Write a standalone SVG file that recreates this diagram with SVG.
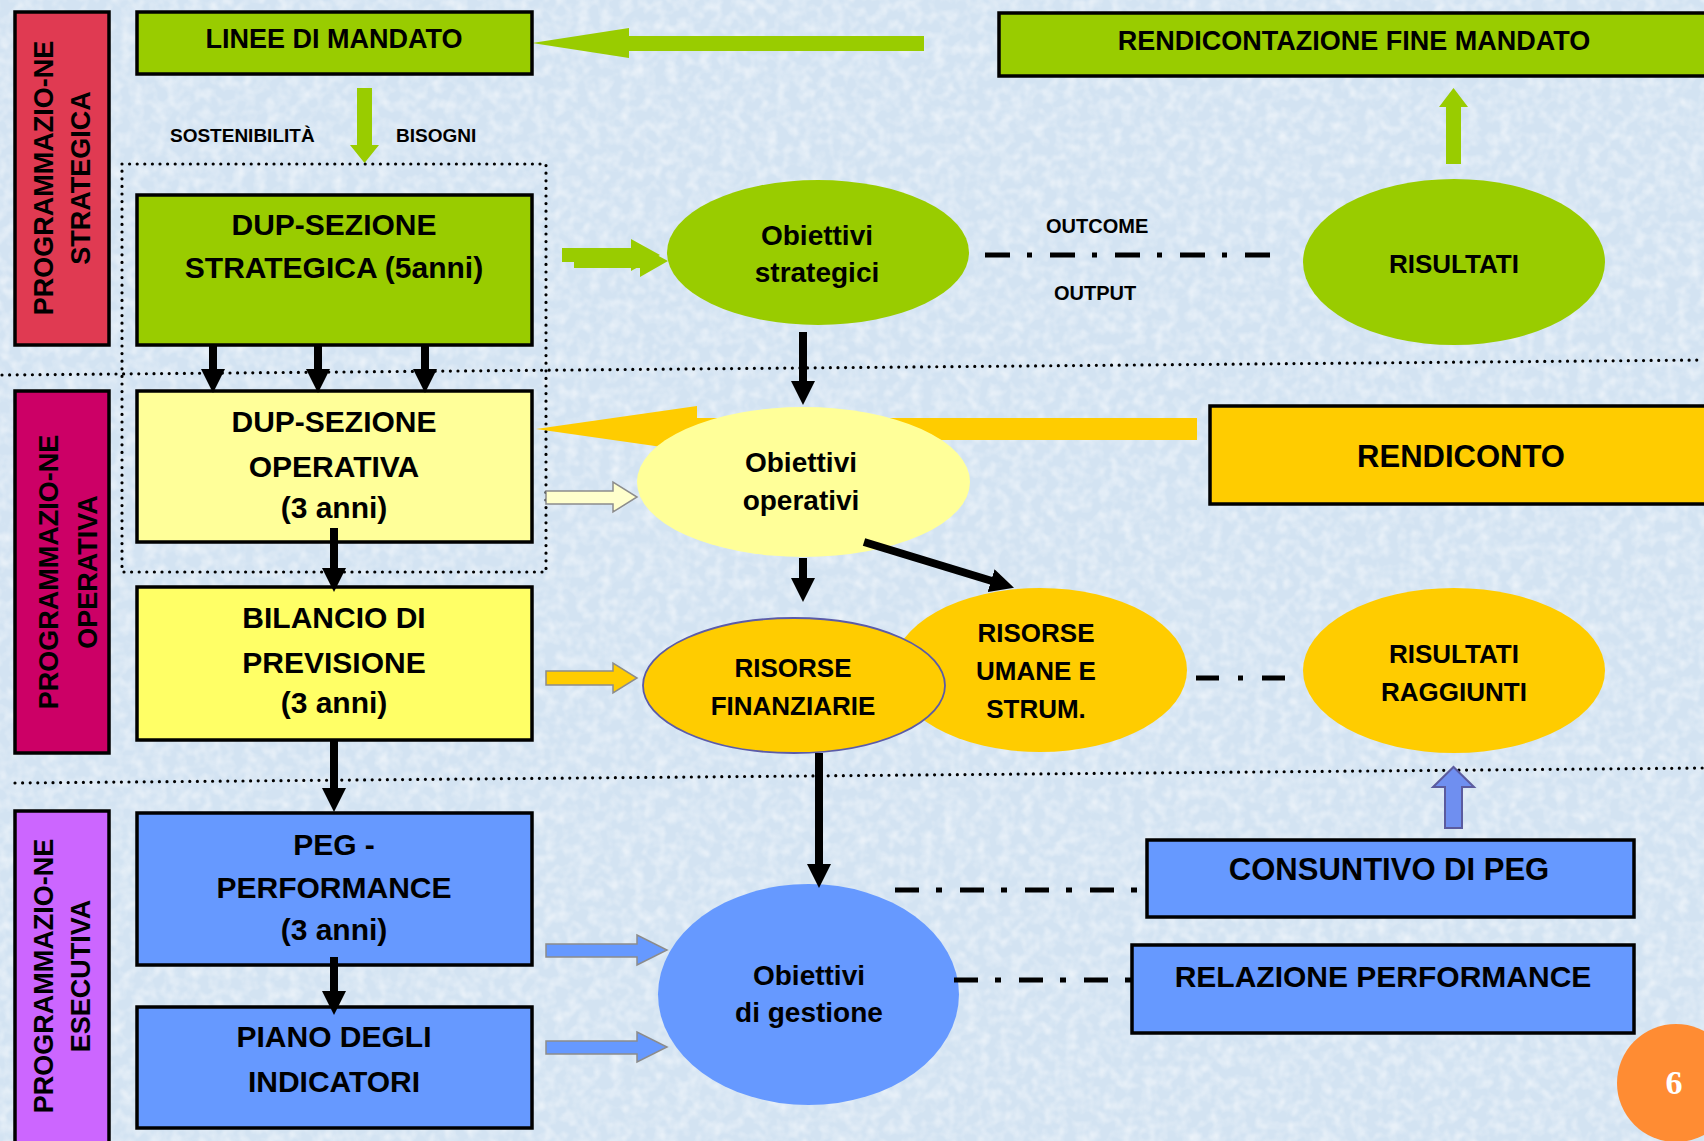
<svg xmlns="http://www.w3.org/2000/svg" width="1704" height="1141" viewBox="0 0 1704 1141">
<defs>
<style>
.t{font-family:"Liberation Sans",Arial,sans-serif;font-weight:bold;fill:#000;text-anchor:middle}
.ts{text-anchor:start}
.s19{font-size:19px}.s20{font-size:20px}.s26{font-size:26px}.s27{font-size:27px}.s28{font-size:28px}.s30{font-size:30px}.s31{font-size:31px}
.box{stroke:#000;stroke-width:3.5}
.dots{fill:none;stroke:#000;stroke-width:3.2;stroke-linecap:round;stroke-dasharray:0 7.6}
.dashdot{fill:none;stroke:#000;stroke-width:5}
.blk{fill:none;stroke:#000;stroke-width:8;marker-end:url(#ah)}
.green{fill:#99cc00}
.hollow{stroke:#8c8c8c;stroke-width:1.5}
</style>
<marker id="ah" markerUnits="userSpaceOnUse" markerWidth="24" markerHeight="24" viewBox="0 0 24 24" refX="1" refY="12" orient="auto">
<path d="M0,0 L24,12 L0,24 z" fill="#000"/>
</marker>
<filter id="tex" x="0" y="0" width="100%" height="100%">
<feTurbulence type="fractalNoise" baseFrequency="0.09" numOctaves="2" seed="4"/>
<feColorMatrix type="matrix" values="0 0 0 0 1  0 0 0 0 1  0 0 0 0 1  0 0 0 1.3 -0.5"/>
</filter>
</defs>

<rect x="0" y="0" width="1704" height="1141" fill="#d3e3f2"/>
<rect x="0" y="0" width="1704" height="1141" filter="url(#tex)" opacity="0.8"/>

<g id="guides">
<line class="dots" x1="2" y1="375" x2="1704" y2="360"/>
<line class="dots" x1="15" y1="783" x2="1704" y2="768"/>
<rect class="dots" x="122" y="164" width="424" height="408"/>
</g>

<g id="connectors-back">
<polygon class="green" points="532,43 629,28 629,36 924,36 924,51 629,51 629,58"/>
<polygon class="green" points="357,88 372,88 372,145 379,145 364.5,163 350,145 357,145"/>
<polygon class="green" points="1446,164 1461,164 1461,107 1468,107 1453.5,88 1439,107 1446,107"/>
<polygon class="green" points="562,248 631,248 631,239 660,255 631,271 631,262 562,262"/>
<polygon class="green" points="574,254 640,254 640,246 668,261 640,277 640,268 574,268"/>
<polygon fill="#ffcc00" points="536,429 697,406 697,418 1197,418 1197,440 697,440 697,452"/>
<polygon class="hollow" fill="#ffffcc" points="546,491 613,491 613,482 637,497 613,512 613,504 546,504"/>
<polygon class="hollow" fill="#ffcc00" points="546,671 613,671 613,663 637,678 613,693 613,685 546,685"/>
<polygon class="hollow" fill="#6699ff" points="546,944 637,944 637,935 667,950 637,965 637,957 546,957"/>
<polygon class="hollow" fill="#6699ff" points="546,1041 637,1041 637,1032 667,1047 637,1062 637,1054 546,1054"/>
<polygon fill="#6f8ff0" stroke="#5b5b9e" stroke-width="2" points="1445,828 1462,828 1462,787 1474,787 1453.5,767 1433,787 1445,787"/>
</g>

<g id="side-strategica">
<rect class="box" x="15" y="12" width="94" height="333" fill="#e03a52"/>
<g transform="translate(62,178) rotate(-90)">
<text class="t s27" x="0" y="-9.5">PROGRAMMAZIO-NE</text>
<text class="t s27" x="0" y="27.5">STRATEGICA</text>
</g>
</g>
<g id="side-operativa">
<rect class="box" x="15" y="391" width="94" height="362" fill="#cc0066"/>
<g transform="translate(62,572) rotate(-90)">
<text class="t s27" x="0" y="-4.5">PROGRAMMAZIO-NE</text>
<text class="t s27" x="0" y="35">OPERATIVA</text>
</g>
</g>
<g id="side-esecutiva">
<rect class="box" x="15" y="811" width="94" height="345" fill="#cc66ff"/>
<g transform="translate(62,976) rotate(-90)">
<text class="t s27" x="0" y="-9.5">PROGRAMMAZIO-NE</text>
<text class="t s27" x="0" y="27.5">ESECUTIVA</text>
</g>
</g>

<g id="linee-mandato">
<rect class="box" x="137" y="12" width="395" height="62" fill="#99cc00"/>
<text class="t s27" x="334" y="48">LINEE DI MANDATO</text>
</g>
<g id="rendicontazione-fine-mandato">
<rect class="box" x="999" y="13" width="720" height="63" fill="#99cc00"/>
<text class="t s27" x="1354" y="50">RENDICONTAZIONE FINE MANDATO</text>
</g>
<g id="dup-strategica">
<rect class="box" x="137" y="195" width="395" height="150" fill="#99cc00"/>
<text class="t s30" x="334" y="235">DUP-SEZIONE</text>
<text class="t s30" x="334" y="278">STRATEGICA (5anni)</text>
</g>
<g id="obiettivi-strategici">
<ellipse cx="818" cy="252.5" rx="151" ry="72.5" fill="#99cc00"/>
<text class="t s28" x="817" y="245">Obiettivi</text>
<text class="t s28" x="817" y="282">strategici</text>
</g>
<g id="risultati">
<ellipse cx="1454" cy="262" rx="151" ry="83" fill="#99cc00"/>
<text class="t s26" x="1454" y="273">RISULTATI</text>
</g>
<g id="dup-operativa">
<rect class="box" x="137" y="391" width="395" height="151" fill="#ffff99"/>
<text class="t s30" x="334" y="432">DUP-SEZIONE</text>
<text class="t s30" x="334" y="477">OPERATIVA</text>
<text class="t s30" x="334" y="518">(3 anni)</text>
</g>
<g id="obiettivi-operativi">
<ellipse cx="803.5" cy="482" rx="166.5" ry="75" fill="#ffff99"/>
<text class="t s28" x="801" y="472">Obiettivi</text>
<text class="t s28" x="801" y="510">operativi</text>
</g>
<g id="rendiconto">
<rect class="box" x="1210" y="406" width="520" height="98" fill="#ffcc00"/>
<text class="t s31" x="1461" y="467">RENDICONTO</text>
</g>
<g id="bilancio-previsione">
<rect class="box" x="137" y="587" width="395" height="153" fill="#ffff66"/>
<text class="t s30" x="334" y="628">BILANCIO DI</text>
<text class="t s30" x="334" y="673">PREVISIONE</text>
<text class="t s30" x="334" y="713">(3 anni)</text>
</g>
<g id="risorse-umane">
<ellipse cx="1040" cy="670" rx="147" ry="82" fill="#ffcc00"/>
<text class="t s26" x="1036" y="642">RISORSE</text>
<text class="t s26" x="1036" y="680">UMANE E</text>
<text class="t s26" x="1036" y="718">STRUM.</text>
</g>
<g id="risorse-finanziarie">
<ellipse cx="794" cy="685.5" rx="151" ry="67.5" fill="#ffcc00" stroke="#5b5ba8" stroke-width="1.8"/>
<text class="t s26" x="793" y="677">RISORSE</text>
<text class="t s26" x="793" y="715">FINANZIARIE</text>
</g>
<g id="risultati-raggiunti">
<ellipse cx="1454" cy="670.5" rx="151" ry="82.5" fill="#ffcc00"/>
<text class="t s26" x="1454" y="663">RISULTATI</text>
<text class="t s26" x="1454" y="701">RAGGIUNTI</text>
</g>
<g id="peg-performance">
<rect class="box" x="137" y="813" width="395" height="152" fill="#6699ff"/>
<text class="t s30" x="334" y="855">PEG -</text>
<text class="t s30" x="334" y="898">PERFORMANCE</text>
<text class="t s30" x="334" y="940">(3 anni)</text>
</g>
<g id="piano-indicatori">
<rect class="box" x="137" y="1007" width="395" height="121" fill="#6699ff"/>
<text class="t s30" x="334" y="1047">PIANO DEGLI</text>
<text class="t s30" x="334" y="1092">INDICATORI</text>
</g>
<g id="obiettivi-gestione">
<ellipse cx="808.5" cy="994.5" rx="150.5" ry="110.5" fill="#6699ff"/>
<text class="t s28" x="809" y="985">Obiettivi</text>
<text class="t s28" x="809" y="1022">di gestione</text>
</g>
<g id="consuntivo-peg">
<rect class="box" x="1147" y="840" width="487" height="77" fill="#6699ff"/>
<text class="t s31" x="1389" y="880">CONSUNTIVO DI PEG</text>
</g>
<g id="relazione-performance">
<rect class="box" x="1132" y="945" width="502" height="88" fill="#6699ff"/>
<text class="t s30" x="1383" y="987">RELAZIONE PERFORMANCE</text>
</g>
<g id="page-number">
<circle cx="1676" cy="1083" r="59" fill="#ff8c33"/>
<text x="1674" y="1094" text-anchor="middle" font-family="'Liberation Serif','Times New Roman',serif" font-weight="bold" font-size="34" fill="#fff">6</text>
</g>

<g id="connectors">
<line class="blk" x1="213" y1="345" x2="213" y2="370"/>
<line class="blk" x1="318" y1="345" x2="318" y2="370"/>
<line class="blk" x1="425" y1="345" x2="425" y2="370"/>
<line class="blk" x1="803" y1="332" x2="803" y2="382"/>
<line class="blk" x1="334" y1="528" x2="334" y2="569"/>
<line class="blk" x1="334" y1="740" x2="334" y2="789"/>
<line class="blk" x1="334" y1="957" x2="334" y2="992"/>
<line class="blk" x1="803" y1="558" x2="803" y2="579"/>
<line class="blk" x1="864" y1="542" x2="992" y2="581"/>
<line class="blk" x1="819" y1="753" x2="819" y2="865"/>
<line class="dashdot" x1="985" y1="255" x2="1272" y2="255" stroke-dasharray="25 17 5 18"/>
<line class="dashdot" x1="1196" y1="678" x2="1286" y2="678" stroke-dasharray="23 19 5 19"/>
<line class="dashdot" x1="895" y1="890" x2="1141" y2="890" stroke-dasharray="24 17 6 18"/>
<line class="dashdot" x1="954" y1="980" x2="1133" y2="980" stroke-dasharray="24 17 6 18"/>
<text class="t ts s19" x="170" y="142">SOSTENIBILITÀ</text>
<text class="t ts s19" x="396" y="142">BISOGNI</text>
<text class="t ts s20" x="1046" y="233">OUTCOME</text>
<text class="t ts s20" x="1054" y="300">OUTPUT</text>
</g>
</svg>
